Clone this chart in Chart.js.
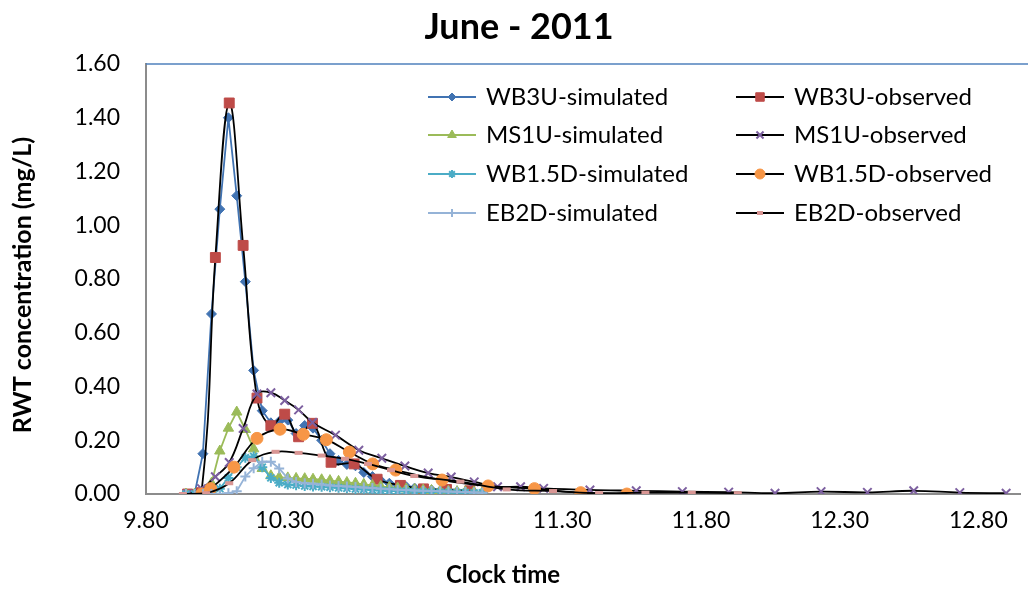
<!DOCTYPE html>
<html>
<head>
<meta charset="utf-8">
<script src="https://cdn.jsdelivr.net/npm/chart.js@4.4.1/dist/chart.umd.min.js"></script>
<style>
  html, body { margin: 0; padding: 0; background: #fff; }
  #wrap { width: 1028px; height: 589px; }
</style>
</head>
<body>
<div id="wrap"><canvas id="rwtChart" width="1028" height="589"></canvas></div>
<script>
// simulated series share one time base (clock time, decimal hours)
const simTime = [9.944, 9.975, 10.005, 10.036, 10.066, 10.097, 10.127, 10.158, 10.188, 10.219,
  10.250, 10.280, 10.311, 10.341, 10.372, 10.402, 10.433, 10.463, 10.494, 10.524,
  10.555, 10.585, 10.616, 10.646, 10.677, 10.707, 10.738, 10.768, 10.799, 10.829,
  10.860, 10.890, 10.921, 10.951, 10.982, 11.012];

const wb3uSim = [0, 0, 0.15, 0.67, 1.06, 1.40, 1.11, 0.79, 0.46, 0.31,
  0.265, 0.27, 0.275, 0.225, 0.255, 0.245, 0.20, 0.15, 0.125, 0.11,
  0.105, 0.08, 0.065, 0.05, 0.04, 0.033, 0.027, 0.022, 0.018, 0.015,
  0.012, 0.010, 0.008, 0.007, 0.006, 0.005];
const ms1uSim = [0, 0, 0.005, 0.04, 0.16, 0.245, 0.305, 0.24, 0.168, 0.095,
  0.068, 0.062, 0.06, 0.058, 0.057, 0.055, 0.053, 0.05, 0.047, 0.043,
  0.04, 0.036, 0.032, 0.028, 0.025, 0.022, 0.019, 0.017, 0.015, 0.013,
  0.011, 0.010, 0.009, 0.008, 0.007, 0.006];
const wb15Sim = [0, 0, 0, 0.005, 0.02, 0.06, 0.10, 0.135, 0.14, 0.10,
  0.06, 0.042, 0.035, 0.033, 0.030, 0.028, 0.027, 0.025, 0.023, 0.021,
  0.019, 0.017, 0.015, 0.013, 0.012, 0.011, 0.010, 0.009, 0.008, 0.007,
  0.007, 0.006, 0.005, 0.005, 0.004, 0.004];
const eb2dSim = [0, 0, 0, 0, 0, 0.003, 0.01, 0.065, 0.096, 0.12,
  0.12, 0.095, 0.058, 0.045, 0.040, 0.038, 0.035, 0.032, 0.030, 0.028,
  0.026, 0.024, 0.022, 0.020, 0.018, 0.016, 0.015, 0.013, 0.012, 0.011,
  0.010, 0.009, 0.008, 0.007, 0.006, 0.005];

// observed series, each with its own sampling times
const wb3uObsTime = [9.950, 10.000, 10.050, 10.100, 10.150, 10.200, 10.250, 10.300, 10.350, 10.400,
  10.467, 10.550, 10.633, 10.717, 10.800, 10.883, 10.967];
const wb3uObs = [0, 0.005, 0.88, 1.455, 0.925, 0.357, 0.254, 0.297, 0.213, 0.263,
  0.118, 0.112, 0.055, 0.032, 0.019, 0.017, 0.012];

const ms1uObsTime = [9.950, 10.000, 10.050, 10.100, 10.150, 10.200, 10.250, 10.300, 10.350, 10.400,
  10.483, 10.567, 10.650, 10.733, 10.817, 10.900, 10.983, 11.067, 11.150, 11.233,
  11.400, 11.567, 11.733, 11.900, 12.067, 12.233, 12.400, 12.567, 12.733, 12.900];
const ms1uObs = [0, 0.02, 0.064, 0.117, 0.244, 0.372, 0.377, 0.348, 0.313, 0.266,
  0.219, 0.163, 0.133, 0.104, 0.078, 0.063, 0.045, 0.027, 0.027, 0.021,
  0.015, 0.012, 0.009, 0.007, 0.003, 0.009, 0.006, 0.012, 0.005, 0.003];

const wb15ObsTime = [10.000, 10.033, 10.117, 10.200, 10.283, 10.367, 10.450, 10.533, 10.617, 10.700,
  10.867, 11.033, 11.200, 11.367, 11.533];
const wb15Obs = [0, 0.02, 0.10, 0.207, 0.241, 0.222, 0.202, 0.156, 0.112, 0.089,
  0.052, 0.030, 0.020, 0.005, 0.0];

const eb2dObsTime = [9.933, 10.017, 10.100, 10.183, 10.267, 10.350, 10.433, 10.517, 10.600, 10.683,
  10.767, 10.933, 11.100, 11.267, 11.433, 11.600, 11.767, 11.933];
const eb2dObs = [0, 0.003, 0.04, 0.126, 0.157, 0.153, 0.143, 0.131, 0.112, 0.089,
  0.067, 0.046, 0.017, 0.011, 0.003, 0.005, 0.005, 0.003];

const xTicks = [9.80, 10.30, 10.80, 11.30, 11.80, 12.30, 12.80];

const FONT = 'Lato';

function pts(xs, ys) {
    return xs.map((x, i) => ({ x: x, y: ys[i] }));
}

function simSet(label, xs, ys, color, style, radius, bw) {
    return {
        label: label,
        data: pts(xs, ys),
        borderColor: color,
        backgroundColor: color,
        borderWidth: 1.8,
        tension: 0,
        pointStyle: style,
        pointRadius: radius,
        pointBackgroundColor: color,
        pointBorderColor: color,
        pointBorderWidth: bw,
        lineColor: color
    };
}

function obsSet(label, xs, ys, color, style, radius, bw) {
    return {
        label: label,
        data: pts(xs, ys),
        borderColor: '#000',
        backgroundColor: color,
        borderWidth: 1.8,
        tension: 0.4,
        pointStyle: style,
        pointRadius: radius,
        pointBackgroundColor: color,
        pointBorderColor: color,
        pointBorderWidth: bw,
        lineColor: '#000'
    };
}

const datasets = [
    simSet('WB3U-simulated', simTime, wb3uSim, '#4173B2', 'rectRot', 5, 1),
    obsSet('WB3U-observed', wb3uObsTime, wb3uObs, '#BE4B48', 'rect', 7, 1),
    simSet('MS1U-simulated', simTime, ms1uSim, '#9BBB59', 'triangle', 6, 1),
    obsSet('MS1U-observed', ms1uObsTime, ms1uObs, '#7D60A0', 'crossRot', 6, 2),
    simSet('WB1.5D-simulated', simTime, wb15Sim, '#4BACC6', 'star', 5, 2),
    obsSet('WB1.5D-observed', wb15ObsTime, wb15Obs, '#F79646', 'circle', 6, 1),
    simSet('EB2D-simulated', simTime, eb2dSim, '#95B3D7', 'cross', 5, 2),
    obsSet('EB2D-observed', eb2dObsTime, eb2dObs, '#D99694', 'line', 4, 4)
];
// later series are painted on top, as in the original
datasets.forEach((d, i) => { d.order = -i; });

const decor = {
    id: 'decor',
    beforeDatasetsDraw(chart) {
        const ctx = chart.ctx;
        const a = chart.chartArea;
        ctx.save();
        ctx.strokeStyle = '#4F81BD';
        ctx.lineWidth = 1.5;
        ctx.beginPath();
        ctx.moveTo(a.left, a.top);
        ctx.lineTo(1028, a.top);
        ctx.stroke();
        ctx.restore();
    },
    afterDraw(chart) {
        const ctx = chart.ctx;
        ctx.save();
        ctx.fillStyle = '#000';
        ctx.textAlign = 'center';
        ctx.textBaseline = 'middle';
        ctx.font = 'bold 36px ' + FONT;
        ctx.fillText('June - 2011', 519, 27);
        ctx.font = 'bold 24px ' + FONT;
        ctx.fillText('Clock time', 503, 575);
        ctx.font = 'bold 25px ' + FONT;
        ctx.translate(23, 285);
        ctx.rotate(-Math.PI / 2);
        ctx.fillText('RWT concentration (mg/L)', 0, 0);
        ctx.restore();

        // legend: two columns, four rows
        const colLine = [428, 736];
        const colText = [486, 794];
        const rowY = [97, 135, 174, 213];
        chart.data.datasets.forEach((d, i) => {
            const col = i % 2, row = Math.floor(i / 2);
            const x0 = colLine[col], x1 = x0 + 48, y = rowY[row];
            ctx.save();
            ctx.strokeStyle = d.lineColor;
            ctx.lineWidth = 1.8;
            ctx.beginPath();
            ctx.moveTo(x0, y);
            ctx.lineTo(x1, y);
            ctx.stroke();
            ctx.fillStyle = d.pointBackgroundColor;
            ctx.strokeStyle = d.pointBorderColor;
            ctx.lineWidth = d.pointBorderWidth;
            Chart.helpers.drawPoint(ctx, {
                pointStyle: d.pointStyle,
                rotation: 0,
                radius: Math.max(d.pointRadius - 1, 3),
                borderWidth: d.pointBorderWidth
            }, (x0 + x1) / 2, y);
            ctx.fillStyle = '#000';
            ctx.font = '24px ' + FONT;
            ctx.textAlign = 'left';
            ctx.textBaseline = 'middle';
            ctx.fillText(d.label, colText[col], y);
            ctx.restore();
        });
    }
};

new Chart(document.getElementById('rwtChart').getContext('2d'), {
    type: 'line',
    data: { datasets: datasets },
    plugins: [decor],
    options: {
        responsive: false,
        animation: false,
        layout: { padding: { top: 64, right: 0, bottom: 0, left: 0 } },
        plugins: {
            legend: { display: false },
            title: { display: false },
            tooltip: { enabled: false }
        },
        scales: {
            x: {
                type: 'linear',
                min: 9.8,
                max: 12.95,
                afterBuildTicks: s => { s.ticks = xTicks.map(v => ({ value: v })); },
                afterFit: s => { s.height = 95; },
                ticks: {
                    callback: v => v.toFixed(2),
                    font: { family: FONT, size: 23 },
                    color: '#000',
                    padding: 13,
                    maxRotation: 0,
                    autoSkip: false
                },
                grid: { display: false, drawTicks: false },
                border: { color: '#8C8C8C', width: 2 }
            },
            y: {
                min: 0,
                max: 1.6,
                afterFit: s => { s.width = 146; },
                ticks: {
                    stepSize: 0.2,
                    callback: v => v.toFixed(2),
                    font: { family: FONT, size: 23 },
                    color: '#000',
                    padding: 26
                },
                grid: { display: false, drawTicks: false },
                border: { color: '#8C8C8C', width: 2 }
            }
        }
    }
});
</script>
</body>
</html>
